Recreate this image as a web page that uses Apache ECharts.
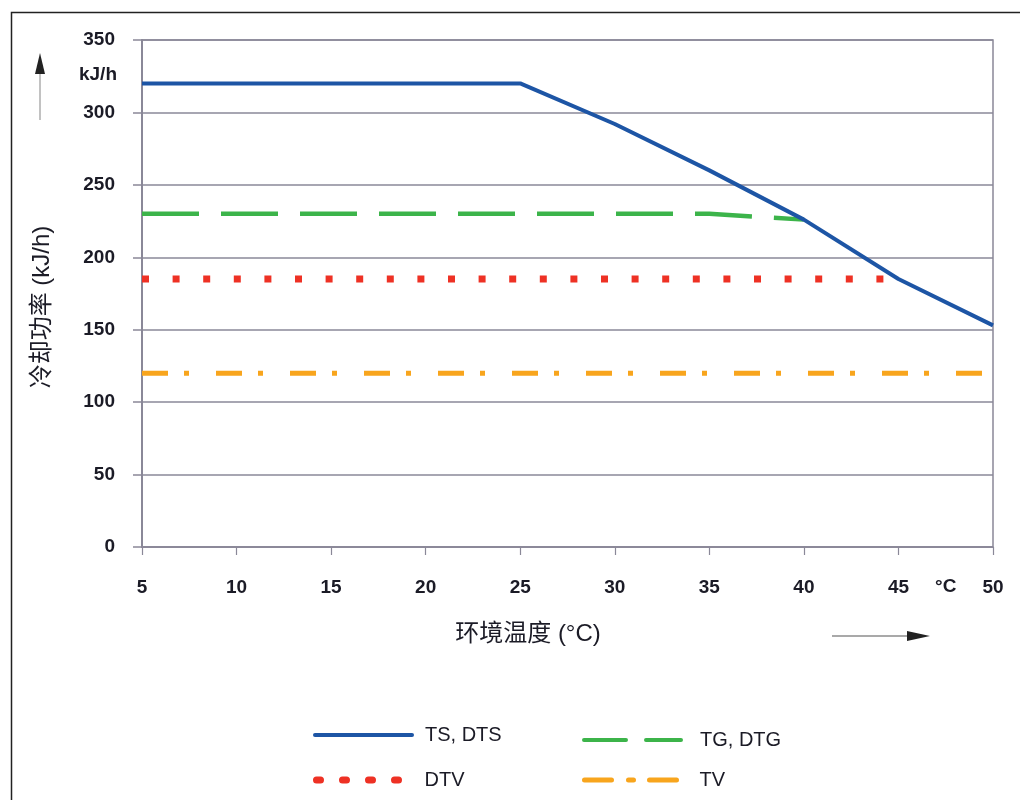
<!DOCTYPE html>
<html><head><meta charset="utf-8">
<script src="https://cdn.jsdelivr.net/npm/echarts@6/dist/echarts.min.js"></script>
<style>html,body{margin:0;padding:0;background:#fff}#c{width:1020px;height:800px}</style>
</head><body><div id="c"></div>
<script>
const xTicks = [5,10,15,20,25,30,35,40,45,50];
const yTicks = [0,50,100,150,200,250,300,350];
const tsDts = [[5,320],[25,320],[30,292],[35,260],[40,226],[45,185],[50,153]];
const tgDtg = [[5,230],[35,230],[37.5,228],[40,226]];
const dtv = [[5,185],[44.5,185]];
const tv = [[5,120],[50,120]];
const names = ['TS, DTS','TG, DTG','DTV','TV'];

const gridColor = '#8a8898';
const txt = '#1b1b26';
const chart = echarts.init(document.getElementById('c'), null, {renderer:'canvas'});
const font = '"Liberation Sans", Arial, sans-serif';
const cjk = '"Liberation Sans", "Noto Sans CJK SC", sans-serif';
const C = {blue:'#1d55a5', green:'#3cb44a', red:'#ee3124', orange:'#f8a51d'};

function leg(name, left, top, lineStyle, pad){
  return {left:left, top:top, padding:0, itemWidth:97, itemHeight:12, selectedMode:false,
    textStyle:{fontSize:20,color:txt,fontFamily:font,padding:[0,0,0,pad]},
    data:[{name:name, itemStyle:{opacity:0}, lineStyle:lineStyle}]};
}

chart.setOption({
  animation:false,
  backgroundColor:'#fff',
  grid:{left:142,right:27,top:40,bottom:253,show:true,borderColor:gridColor,borderWidth:1.5},
  xAxis:{type:'value',min:xTicks[0],max:xTicks[xTicks.length-1],interval:5,
    axisLine:{lineStyle:{color:gridColor,width:1.5}},
    axisTick:{show:true,length:8,lineStyle:{color:gridColor,width:1.2}},
    splitLine:{show:false},
    axisLabel:{margin:31,color:txt,fontSize:19,fontWeight:'bold',fontFamily:font,formatter:v=>xTicks.includes(v)?String(v):''}},
  yAxis:{type:'value',min:yTicks[0],max:yTicks[yTicks.length-1],interval:50,
    axisLine:{show:true,lineStyle:{color:gridColor,width:2}},
    axisTick:{show:true,length:9,lineStyle:{color:gridColor,width:1.5}},
    splitLine:{show:true,lineStyle:{color:gridColor,width:1.5}},
    axisLabel:{margin:27,color:txt,fontSize:19,fontWeight:'bold',fontFamily:font}},
  legend:[
    leg(names[0],313,725,{width:4,type:'solid',cap:'round'},8),
    leg(names[2],313,770,{width:7,type:[4,22],cap:'round'},6),
    leg(names[1],582,730,{width:4,type:[42,20],cap:'round'},14),
    leg(names[3],582,770,{width:5,type:[27,17,5,16],cap:'round'},13)
  ],
  series:[
    {name:names[0],type:'line',data:tsDts,showSymbol:false,symbol:'none',lineStyle:{color:C.blue,width:4},itemStyle:{color:C.blue},z:5},
    {name:names[1],type:'line',data:tgDtg,showSymbol:false,symbol:'none',lineStyle:{color:C.green,width:4.5,type:[57,22]},itemStyle:{color:C.green},z:4},
    {name:names[2],type:'line',data:dtv,showSymbol:false,symbol:'none',lineStyle:{color:C.red,width:7,type:[7,23.6],cap:'butt'},itemStyle:{color:C.red},z:3},
    {name:names[3],type:'line',data:tv,showSymbol:false,symbol:'none',lineStyle:{color:C.orange,width:5,type:[26,16,5,27]},itemStyle:{color:C.orange},z:3}
  ]
});

const pUnit = chart.convertToPixel({gridIndex:0},[5,326]);
const pDeg = chart.convertToPixel({gridIndex:0},[47.5,0]);
chart.setOption({
  graphic:[
    {type:'rect',shape:{x:11.5,y:12.5,width:1030,height:820},style:{fill:null,stroke:'#222',lineWidth:1.5},silent:true},
    {type:'text',x:117,y:pUnit[1],style:{text:'kJ/h',fill:txt,font:'bold 19px '+font,textAlign:'right',textVerticalAlign:'middle'}},
    {type:'text',x:pDeg[0],y:pDeg[1]+40,style:{text:'°C',fill:txt,font:'bold 19px '+font,textAlign:'center',textVerticalAlign:'middle'}},
    {type:'text',x:42,y:307,rotation:Math.PI/2,style:{text:'冷却功率 (kJ/h)',fill:txt,font:'24px '+cjk,textAlign:'center',textVerticalAlign:'middle'}},
    {type:'text',x:528,y:634,style:{text:'环境温度 (°C)',fill:txt,font:'24px '+cjk,textAlign:'center',textVerticalAlign:'middle'}},
    {type:'line',shape:{x1:40,y1:120,x2:40,y2:70},style:{stroke:'#999',lineWidth:1.2}},
    {type:'polygon',shape:{points:[[40,53],[35,74],[45,74]]},style:{fill:'#222'}},
    {type:'line',shape:{x1:832,y1:636,x2:910,y2:636},style:{stroke:'#555',lineWidth:1.2}},
    {type:'polygon',shape:{points:[[930,636],[907,631],[907,641]]},style:{fill:'#222'}}
  ]
});
</script></body></html>
